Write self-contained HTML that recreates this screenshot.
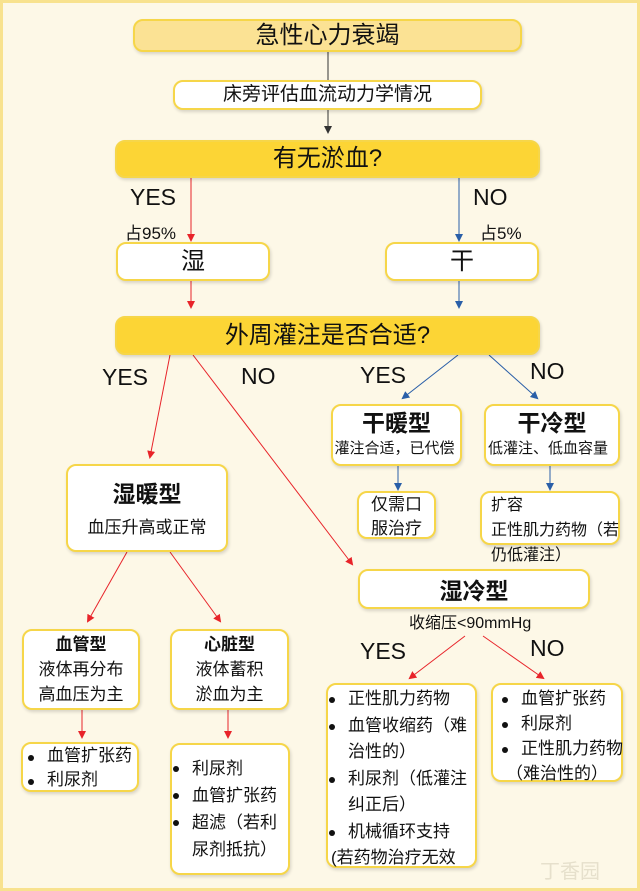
<!DOCTYPE html>
<html><head><meta charset="utf-8"><style>
*{margin:0;padding:0;box-sizing:border-box}
body{width:640px;height:891px;background:#fdf8e7;position:relative;overflow:hidden;font-family:"Liberation Sans","Noto Sans CJK SC",sans-serif;color:#111}
.frame{position:absolute;left:0;top:0;width:640px;height:891px;border:3px solid #f8e28e}
.b{position:absolute;background:#fff;border:2px solid #f6d649;border-radius:10px;box-shadow:1px 2px 3px rgba(0,0,0,.15);text-align:center}
.t{position:absolute;white-space:nowrap}
ul{list-style:none}
li{position:relative;padding-left:26px;text-align:left}
li:before{content:"";position:absolute;left:7px;top:11px;width:6px;height:6px;border-radius:50%;background:#111}
</style></head><body>
<div class="frame"></div>
<svg width="640" height="891" style="position:absolute;left:0;top:0">
<defs>
<marker id="k" markerWidth="8" markerHeight="8" refX="6" refY="4" orient="auto" markerUnits="userSpaceOnUse"><path d="M0,0L8,4L0,8z" fill="#333"/></marker>
<marker id="r" markerWidth="8" markerHeight="8" refX="6" refY="4" orient="auto" markerUnits="userSpaceOnUse"><path d="M0,0L8,4L0,8z" fill="#e8242a"/></marker>
<marker id="u" markerWidth="8" markerHeight="8" refX="6" refY="4" orient="auto" markerUnits="userSpaceOnUse"><path d="M0,0L8,4L0,8z" fill="#2a5fa8"/></marker>
</defs>
<g stroke-width="1" fill="none">
<line x1="328" y1="52" x2="328" y2="80" stroke="#333"/>
<line x1="328" y1="110" x2="328" y2="132" stroke="#333" marker-end="url(#k)"/>
<line x1="191" y1="178" x2="191" y2="240" stroke="#e8242a" marker-end="url(#r)"/>
<line x1="459" y1="178" x2="459" y2="240" stroke="#2a5fa8" marker-end="url(#u)"/>
<line x1="191" y1="281" x2="191" y2="307" stroke="#e8242a" marker-end="url(#r)"/>
<line x1="459" y1="281" x2="459" y2="307" stroke="#2a5fa8" marker-end="url(#u)"/>
<line x1="170" y1="355" x2="150" y2="457" stroke="#e8242a" marker-end="url(#r)"/>
<line x1="193" y1="355" x2="352" y2="564" stroke="#e8242a" marker-end="url(#r)"/>
<line x1="458" y1="355" x2="403" y2="398" stroke="#2a5fa8" marker-end="url(#u)"/>
<line x1="489" y1="355" x2="537" y2="398" stroke="#2a5fa8" marker-end="url(#u)"/>
<line x1="398" y1="466" x2="398" y2="489" stroke="#2a5fa8" marker-end="url(#u)"/>
<line x1="550" y1="466" x2="550" y2="489" stroke="#2a5fa8" marker-end="url(#u)"/>
<line x1="127" y1="552" x2="88" y2="621" stroke="#e8242a" marker-end="url(#r)"/>
<line x1="170" y1="552" x2="220" y2="621" stroke="#e8242a" marker-end="url(#r)"/>
<line x1="82" y1="710" x2="82" y2="737" stroke="#e8242a" marker-end="url(#r)"/>
<line x1="228" y1="710" x2="228" y2="737" stroke="#e8242a" marker-end="url(#r)"/>
<line x1="465" y1="636" x2="410" y2="678" stroke="#e8242a" marker-end="url(#r)"/>
<line x1="483" y1="636" x2="543" y2="678" stroke="#e8242a" marker-end="url(#r)"/>
</g></svg>

<div class="b" style="left:133px;top:19px;width:389px;height:33px;background:#fbe294;font-size:24px;line-height:29px">急性心力衰竭</div>
<div class="b" style="left:173px;top:80px;width:309px;height:30px;font-size:19px;line-height:26px">床旁评估血流动力学情况</div>
<div class="b" style="left:115px;top:140px;width:425px;height:38px;background:#fcd535;font-size:24px;line-height:34px">有无淤血?</div>
<div class="t" style="left:130px;top:184px;font-size:23px">YES</div>
<div class="t" style="left:125px;top:219px;font-size:17px">占95%</div>
<div class="t" style="left:473px;top:184px;font-size:23px">NO</div>
<div class="t" style="left:480px;top:219px;font-size:17px">占5%</div>
<div class="b" style="left:116px;top:242px;width:154px;height:39px;font-size:24px;line-height:35px">湿</div>
<div class="b" style="left:385px;top:242px;width:154px;height:39px;font-size:24px;line-height:35px">干</div>
<div class="b" style="left:115px;top:316px;width:425px;height:39px;background:#fcd535;font-size:24px;line-height:35px">外周灌注是否合适?</div>
<div class="t" style="left:102px;top:364px;font-size:23px">YES</div>
<div class="t" style="left:241px;top:363px;font-size:23px">NO</div>
<div class="t" style="left:360px;top:362px;font-size:23px">YES</div>
<div class="t" style="left:530px;top:358px;font-size:23px">NO</div>

<div class="b" style="left:331px;top:404px;width:131px;height:62px"><div style="font-size:23px;font-weight:bold;line-height:32px;margin-top:1px">干暖型</div><div style="font-size:15px;line-height:20px;white-space:nowrap;margin-left:-4px">灌注合适，已代偿</div></div>
<div class="b" style="left:484px;top:404px;width:136px;height:62px"><div style="font-size:23px;font-weight:bold;line-height:32px;margin-top:1px">干冷型</div><div style="font-size:15px;line-height:20px;white-space:nowrap;margin-left:-8px">低灌注、低血容量</div></div>
<div class="b" style="left:357px;top:491px;width:79px;height:48px;font-size:17px;line-height:24px">仅需口<br>服治疗</div>
<div class="b" style="left:480px;top:491px;width:140px;height:54px;font-size:16px;line-height:25px;text-align:left;padding-left:9px;white-space:nowrap;overflow:visible">扩容<br>正性肌力药物（若<br>仍低灌注）</div>

<div class="b" style="left:66px;top:464px;width:162px;height:88px"><div style="font-size:23px;font-weight:bold;line-height:32px;margin-top:12px">湿暖型</div><div style="font-size:17px;line-height:24px;margin-top:6px">血压升高或正常</div></div>
<div class="b" style="left:358px;top:569px;width:232px;height:40px;font-size:23px;font-weight:bold;line-height:40px">湿冷型</div>
<div class="t" style="left:409px;top:609px;font-size:16px">收缩压&lt;90mmHg</div>
<div class="t" style="left:360px;top:638px;font-size:23px">YES</div>
<div class="t" style="left:530px;top:635px;font-size:23px">NO</div>

<div class="b" style="left:22px;top:629px;width:118px;height:81px;font-size:17px;line-height:25px;padding-top:1px"><b>血管型</b><br>液体再分布<br>高血压为主</div>
<div class="b" style="left:170px;top:629px;width:119px;height:81px;font-size:17px;line-height:25px;padding-top:1px"><b>心脏型</b><br>液体蓄积<br>淤血为主</div>

<div class="b" style="left:21px;top:742px;width:118px;height:50px;font-size:17px;line-height:24px;padding-top:0px;white-space:nowrap"><ul style="margin-left:-2px"><li>血管扩张药</li><li>利尿剂</li></ul></div>
<div class="b" style="left:170px;top:743px;width:120px;height:132px;font-size:17px;line-height:27px;padding-top:10px;white-space:nowrap"><ul style="margin-left:-6px"><li>利尿剂</li><li>血管扩张药</li><li>超滤（若利<br>尿剂抵抗）</li></ul></div>
<div class="b" style="left:326px;top:683px;width:151px;height:185px;font-size:17px;line-height:26.5px;padding-top:1px;white-space:nowrap"><ul style="margin-left:-6px"><li>正性肌力药物</li><li>血管收缩药（难<br>治性的）</li><li>利尿剂（低灌注<br>纠正后）</li><li>机械循环支持</li></ul><div style="text-align:left;margin-left:3px">(若药物治疗无效</div></div>
<div class="b" style="left:491px;top:683px;width:132px;height:99px;font-size:17px;line-height:25px;padding-top:1px;white-space:nowrap"><ul style="margin-left:2px"><li>血管扩张药</li><li>利尿剂</li><li>正性肌力药物</li></ul><div>（难治性的）</div></div>
<div class="t" style="left:540px;top:855px;font-size:20px;color:#e6e0cc">丁香园</div>
</body></html>
